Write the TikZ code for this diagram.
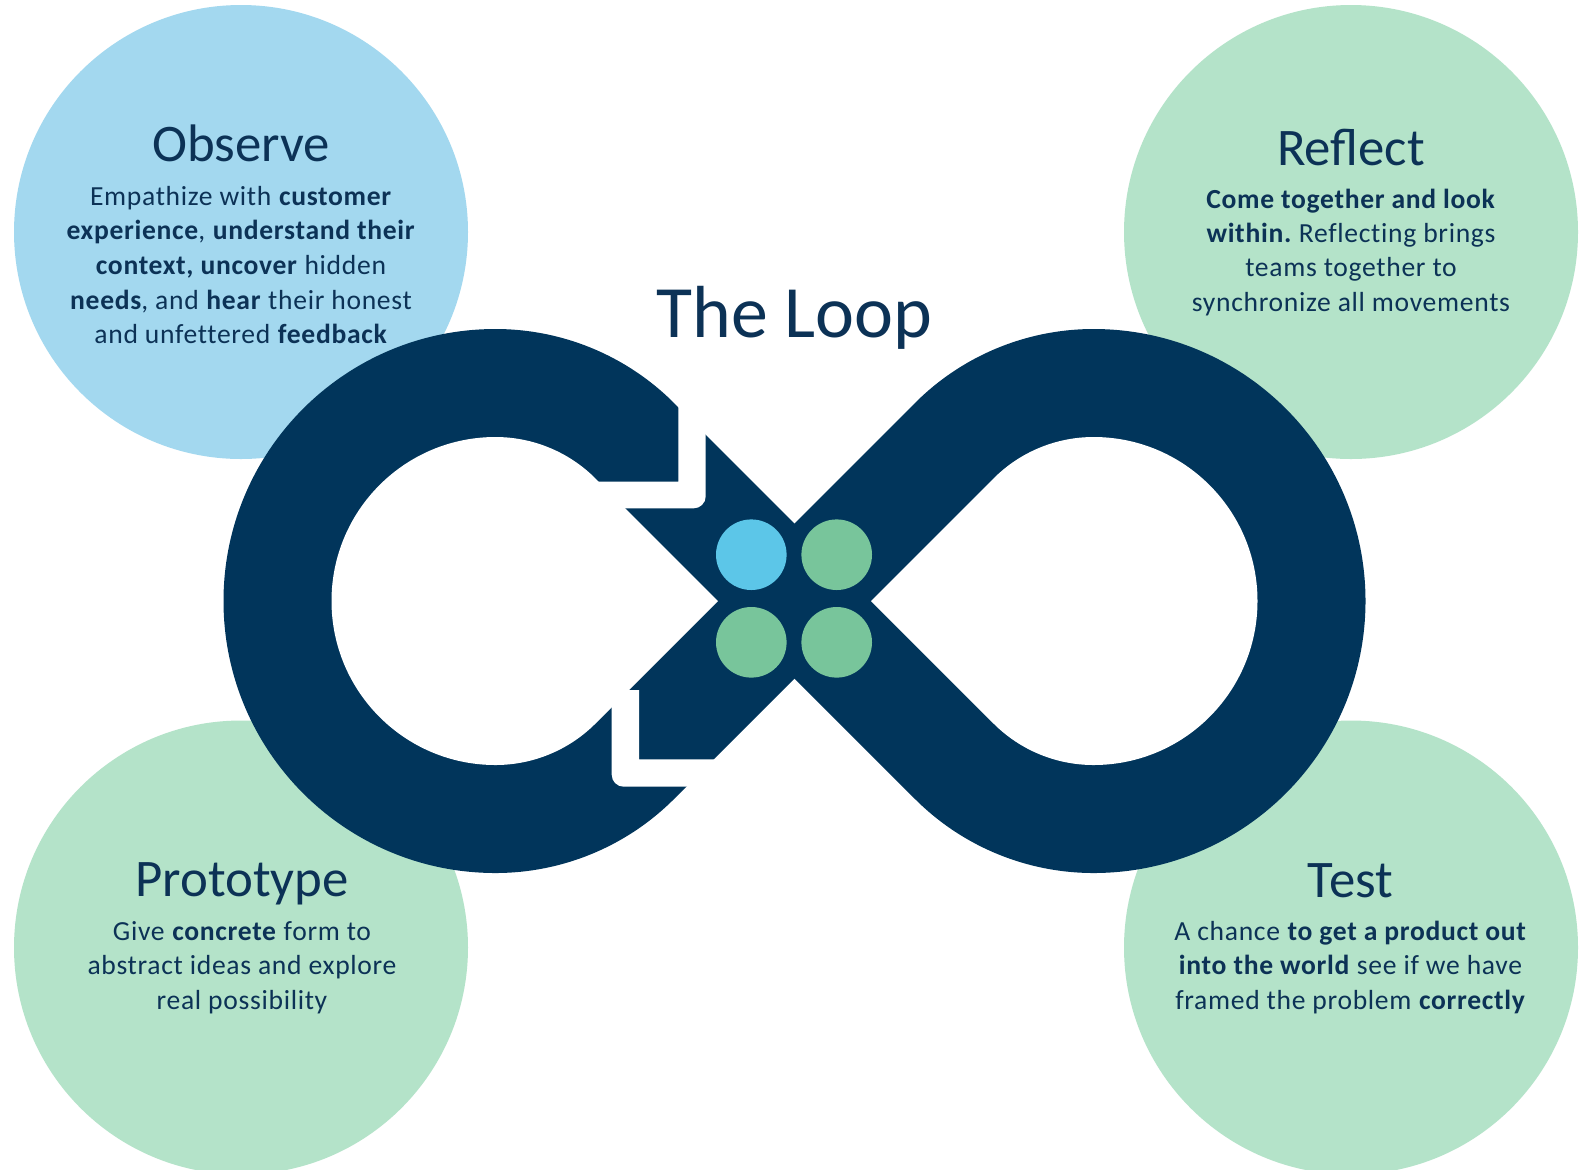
\documentclass[tikz,border=0pt]{standalone}
\usepackage{fontspec}
\setmainfont{Carlito}
\newfontfamily\bodyfont[LetterSpace=2.5,Ligatures=NoCommon]{Carlito}
\frenchspacing
\definecolor{loopnavy}{RGB}{1,53,91}
\definecolor{txtnavy}{RGB}{12,50,86}
\definecolor{bubbleblue}{RGB}{163,216,239}
\definecolor{bubblegreen}{RGB}{180,227,201}
\definecolor{dotblue}{RGB}{92,198,232}
\definecolor{dotgreen}{RGB}{120,197,155}
\begin{document}
\begin{tikzpicture}[x=0.5pt,y=-0.5pt,
  bubble/.style={circle,inner sep=0pt,minimum size=227pt},
  dotnode/.style={circle,inner sep=0pt,minimum size=35.3pt},
  headtxt/.style={anchor=base,inner sep=0pt,text=txtnavy,font=\fontsize{26.4}{30}\selectfont},
  bodytxt/.style={anchor=base,inner sep=0pt,text=txtnavy,font=\bodyfont\fontsize{13.8}{17}\selectfont},
  looppart/.style={fill=loopnavy},
  gappart/.style={fill=white}]
\clip (0,0) rectangle (1589,1169);
\fill[white] (0,0) rectangle (1589,1169);
% bubbles
\node[bubble,fill=bubbleblue] (obsb) at (241,232) {};
\node[bubble,fill=bubblegreen] (refb) at (1351,232) {};
\node[bubble,fill=bubblegreen] (prob) at (241,947.5) {};
\node[bubble,fill=bubblegreen] (tesb) at (1351,947.5) {};
% loop: outer teardrops
\fill[looppart] (717,601) -- (915.2,402.8) .. controls (962.4,355.6) and (1026.7,329) .. (1093.5,329)
  arc[start angle=-90,end angle=90,radius=272]
  .. controls (1026.7,873) and (962.4,846.4) .. (915.2,799.2) -- cycle;
\fill[looppart] (872,601) -- (673.8,402.8) .. controls (626.6,355.6) and (562.3,329) .. (495.5,329)
  arc[start angle=-90,end angle=-270,radius=272]
  .. controls (562.3,873) and (626.6,846.4) .. (673.8,799.2) -- cycle;
% holes
\fill[gappart] (871,601) -- (993.7,478.3) .. controls (1020.1,451.9) and (1056.1,437) .. (1093.5,437)
  arc[start angle=-90,end angle=90,radius=164]
  .. controls (1056.1,765) and (1020.1,750.1) .. (993.7,723.7) -- cycle;
\fill[gappart] (718,601) -- (595.3,478.3) .. controls (568.9,451.9) and (532.9,437) .. (495.5,437)
  arc[start angle=-90,end angle=-270,radius=164]
  .. controls (532.9,765) and (568.9,750.1) .. (595.3,723.7) -- cycle;
% cuts
\fill[gappart] (678.3,395) -- (705.7,395) -- (705.7,496.3) arc[start angle=0,end angle=90,radius=12]
  -- (590,508.3) -- (590,481.7) -- (678.3,481.7) -- cycle;
\fill[gappart] (611.7,690) -- (639,690) -- (639,759.3) -- (730,759.3) -- (730,786.7) -- (623.7,786.7)
  arc[start angle=90,end angle=180,radius=12] -- cycle;
% dots
\node[dotnode,fill=dotblue] (d1) at (751.3,554.7) {};
\node[dotnode,fill=dotgreen] (d2) at (836.7,554.7) {};
\node[dotnode,fill=dotgreen] (d3) at (751.3,642.3) {};
\node[dotnode,fill=dotgreen] (d4) at (836.7,642.3) {};
% title
\node[anchor=base,inner sep=0pt,text=txtnavy,font=\fontsize{36.9}{44}\selectfont] (title) at (794.5,337.5) {The Loop};
% Observe
\node[headtxt] (obs0) at (241,161.7) {Observe};
\node[bodytxt] (obs1) at (241,205) {Empathize with \textbf{customer}};
\node[bodytxt] (obs2) at (241,239.3) {\textbf{experience}, \textbf{understand their}};
\node[bodytxt] (obs3) at (241,274.3) {\textbf{context, uncover} hidden};
\node[bodytxt] (obs4) at (241,309.3) {\textbf{needs}, and \textbf{hear} their honest};
\node[bodytxt] (obs5) at (241,343.3) {and unfettered \textbf{feedback}};
% Reflect
\node[headtxt] (ref0) at (1351,165) {Reflect};
\node[bodytxt] (ref1) at (1351,208.3) {\textbf{Come together and look}};
\node[bodytxt] (ref2) at (1351,242.7) {\textbf{within.} Reflecting brings};
\node[bodytxt] (ref3) at (1351,276.7) {teams together to};
\node[bodytxt] (ref4) at (1351,311.7) {synchronize all movements};
% Prototype
\node[headtxt] (pro0) at (242,896.7) {Prototype};
\node[bodytxt] (pro1) at (242,940) {Give \textbf{concrete} form to};
\node[bodytxt] (pro2) at (242,974.7) {abstract ideas and explore};
\node[bodytxt] (pro3) at (242,1009.4) {real possibility};
% Test
\node[headtxt] (tes0) at (1350.5,897.3) {Test};
\node[bodytxt] (tes1) at (1350.5,940) {A chance \textbf{to get a product out}};
\node[bodytxt] (tes2) at (1350.5,974.7) {\textbf{into the world} see if we have};
\node[bodytxt] (tes3) at (1350.5,1009.4) {framed the problem \textbf{correctly}};
\end{tikzpicture}
\end{document}
